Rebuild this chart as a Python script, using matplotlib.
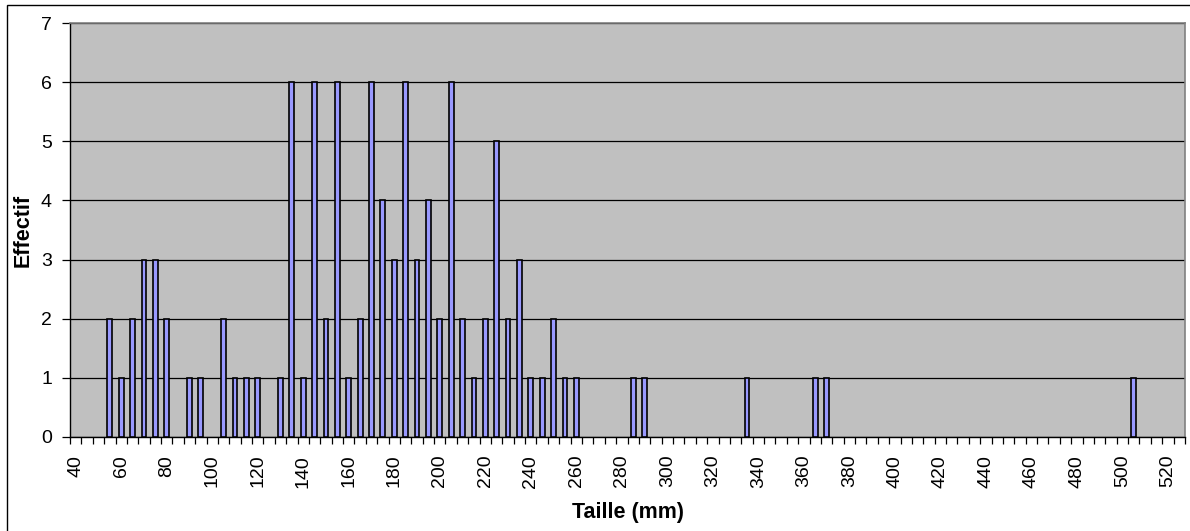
import matplotlib
matplotlib.use("Agg")
import matplotlib.pyplot as plt
import matplotlib.patches as mpatches
import numpy as np

plt.rcParams['font.family'] = ['Liberation Sans', 'DejaVu Sans']

# Category axis (mm), one slot every 5 mm
categories = list(range(40, 530, 5))
# Observed sizes and their counts
sizes = [55, 60, 65, 70, 75, 80, 90, 95, 105, 110, 115, 120, 130, 135, 140, 145,
         150, 155, 160, 165, 170, 175, 180, 185, 190, 195, 200, 205, 210, 215,
         220, 225, 230, 235, 240, 245, 250, 255, 260, 285, 290, 335, 365, 370, 505]
counts = [2, 1, 2, 3, 3, 2, 1, 1, 2, 1, 1, 1, 1, 6, 1, 6,
          2, 6, 1, 2, 6, 4, 3, 6, 3, 4, 2, 6, 2, 1,
          2, 5, 2, 3, 1, 1, 2, 1, 1, 1, 1, 1, 1, 1, 1]
y_ticks = [0, 1, 2, 3, 4, 5, 6, 7]
x_label = "Taille (mm)"
y_label = "Effectif"

W, H = 1190, 531
fig = plt.figure(figsize=(W / 100, H / 100), dpi=100)
fig.patch.set_facecolor('white')

left, right, top, bottom = 70, 1185, 23.3, 436.7
ax = fig.add_axes([left / W, (H - bottom) / H, (right - left) / W, (bottom - top) / H])
ax.set_facecolor('#C0C0C0')

n = len(categories)
idx = [categories.index(s) for s in sizes]
ax.bar(idx, counts, width=0.42, color='#9999FF', edgecolor='black', linewidth=1.2, zorder=3)

ax.set_xlim(-0.5, n - 0.5)
ax.set_ylim(0, 7)
ax.set_yticks(y_ticks)
ax.yaxis.grid(True, color='black', linewidth=0.9, zorder=1)
ax.set_axisbelow(True)

major = list(range(0, n, 4))
ax.set_xticks(major)
ax.set_xticklabels([str(categories[i]) for i in major], rotation=90, va='top', ha='center')
ax.set_xticks(np.arange(-0.5, n, 1.0), minor=True)
ax.tick_params(axis='x', which='major', length=0, pad=13, labelsize=14)
ax.tick_params(axis='x', which='minor', length=5, width=0.9, direction='out', color='black')
ax.tick_params(axis='y', which='major', length=6, width=0.9, direction='out', pad=7, labelsize=14)

for s in ['left', 'bottom']:
    ax.spines[s].set_color('black')
    ax.spines[s].set_linewidth(1.0)
for s in ['top', 'right']:
    ax.spines[s].set_color('#808080')
    ax.spines[s].set_linewidth(1.2)

ax.set_xlabel(x_label, fontsize=15.5, fontweight='bold')
ax.set_ylabel(y_label, fontsize=15.5, fontweight='bold')
ax.xaxis.set_label_coords(0.5, -(502 - bottom) / (bottom - top))
ax.yaxis.set_label_coords(-(left - 34) / (right - left), 0.5)

# Outer chart border (top and left visible)
border = mpatches.Rectangle((7 / W, -0.2), 1.5, 1 - 5 / H + 0.2, transform=fig.transFigure,
                            fill=False, edgecolor='black', linewidth=1.0, clip_on=False)
fig.patches.append(border)

fig.savefig('out.png', dpi=100, facecolor='white')
